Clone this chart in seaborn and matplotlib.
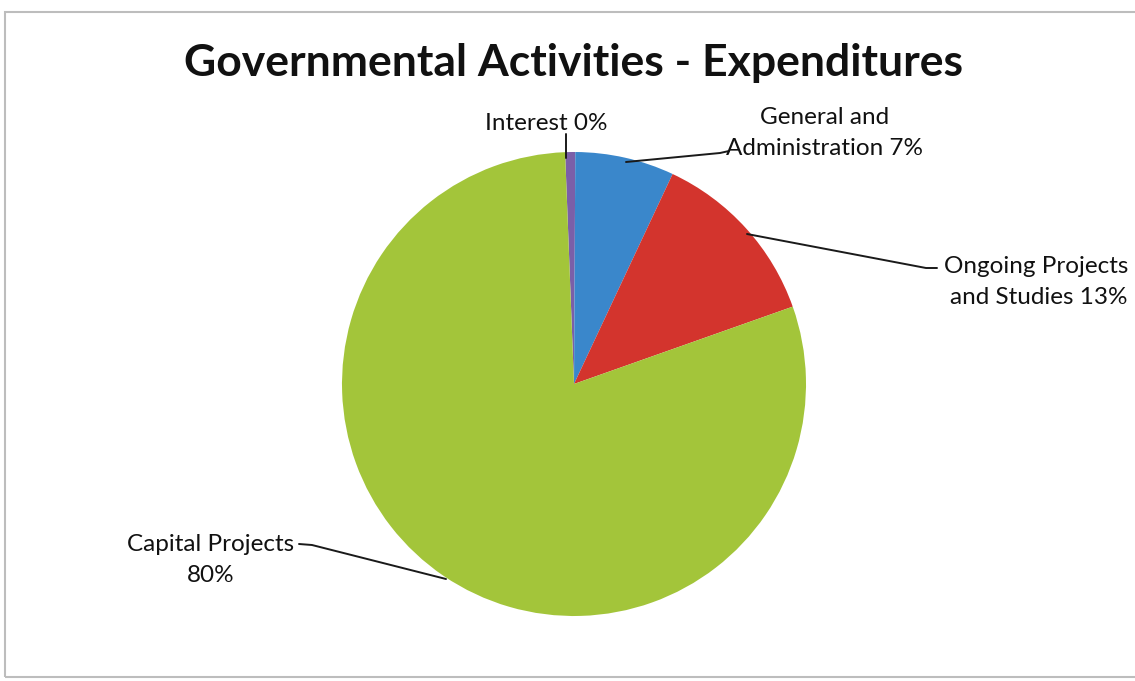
import matplotlib
matplotlib.use("Agg")
import matplotlib.pyplot as plt
from matplotlib.patches import Rectangle
import seaborn as sns

# ---- data ----
categories = ["Interest", "General and\nAdministration", "Ongoing Projects\nand Studies", "Capital Projects"]
values = [0.7, 6.9, 12.6, 79.8]
pct_labels = ["0%", "7%", "13%", "80%"]
colors = ["#7B5FA8", "#3A87CB", "#D3342D", "#A3C53A"]
title = "Governmental Activities - Expenditures"

sns.set_theme(style="white")
plt.rcParams['font.family'] = ['Lato', 'DejaVu Sans']

W, H = 1135, 681
fig = plt.figure(figsize=(W / 100, H / 100), dpi=100)
ax = fig.add_axes([0, 0, 1, 1])

cx, cy, r = 574, H - 384, 232
wedges, _ = ax.pie(values, colors=colors, startangle=90 + 2.2, counterclock=False,
                   center=(cx, cy), radius=r, wedgeprops=dict(linewidth=0))
ax.set_xlim(0, W)
ax.set_ylim(0, H)
ax.set_aspect("equal")
ax.axis("off")

# frame
fig.patches.append(Rectangle((5 / W, 4 / H), (W + 10) / W, (H - 16) / H, transform=fig.transFigure,
                             fill=False, edgecolor="#BDBDBD", linewidth=1.5))

ax.text(574, H - 63, title, ha="center", va="center", fontsize=32, fontweight="bold", color="#111111")

def y(p):
    return H - p

lc = "#1a1a1a"
lw = 1.4
fs = 17.5
ls = 1.6
# Interest
ax.text(546, y(123), f"{categories[0]} {pct_labels[0]}", ha="center", va="center", fontsize=fs, color="#111")
ax.plot([566, 566], [y(134), y(158)], color=lc, lw=lw)
# General and Administration
l1, l2 = categories[1].split("\n")
ax.text(825, y(133), l1 + "\n" + l2 + " " + pct_labels[1],
        ha="center", va="center", fontsize=fs, color="#111", linespacing=ls)
ax.plot([626, 720, 729], [y(162), y(153), y(151)], color=lc, lw=lw)
# Ongoing Projects
l1, l2 = categories[2].split("\n")
ax.text(1128, y(282), l1 + "\n" + l2 + " " + pct_labels[2],
        ha="right", va="center", fontsize=fs, color="#111", linespacing=ls)
ax.plot([747, 926, 937], [y(234), y(268), y(268)], color=lc, lw=lw)
# Capital Projects
ax.text(211, y(560), categories[3] + "\n" + pct_labels[3], ha="center", va="center",
        fontsize=fs, color="#111", linespacing=ls)
ax.plot([299, 312, 446], [y(544), y(545), y(579)], color=lc, lw=lw)

fig.savefig("out.png", dpi=100, facecolor="white")
